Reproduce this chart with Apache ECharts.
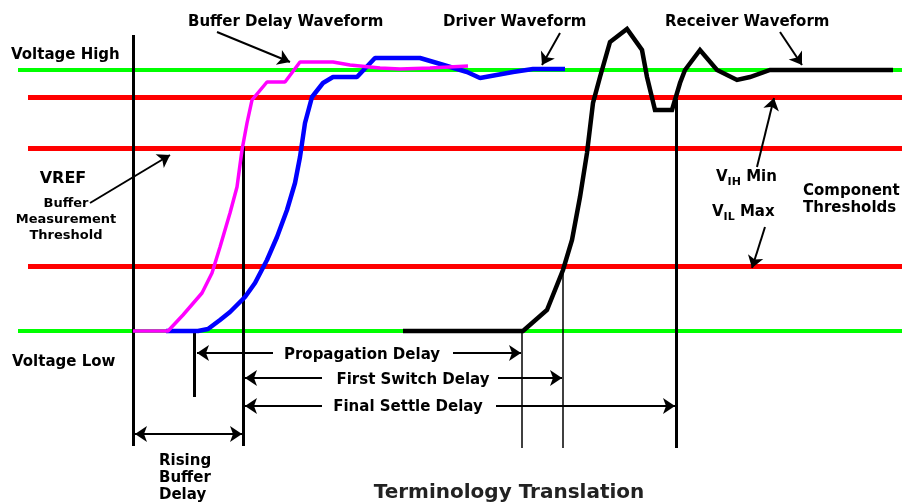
<!DOCTYPE html>
<html>
<head>
<meta charset="utf-8">
<script src="https://cdn.jsdelivr.net/npm/echarts@6/dist/echarts.min.js"></script>
<style>
html, body { margin: 0; padding: 0; background: #fff; }
#chart { width: 902px; height: 503px; }
</style>
</head>
<body>
<div id="chart"></div>
<script>
// signal levels (drawing units, y grows downward)
const railLevels = [70, 331]            // Voltage High, Voltage Low
const thresholdLevels = [97, 148, 266]  // VIH min, VREF, VIL max

// waveforms [time, level]
const bufferWave = [[133, 331], [168, 331], [183, 315], [202, 293], [212, 273], [220, 247], [230, 213],
  [237, 187], [242, 150], [247, 123], [252, 100], [267, 82], [285, 82], [300, 62], [333, 62],
  [350, 65], [380, 68], [400, 69], [430, 68], [468, 66]]
const driverWave = [[166, 331], [198, 331], [208, 329], [220, 320], [230, 312], [245, 297], [255, 283],
  [267, 260], [277, 237], [287, 210], [295, 183], [300, 157], [305, 123], [312, 97], [323, 83],
  [333, 77], [357, 77], [375, 58], [420, 58], [437, 63], [467, 72], [480, 78], [513, 72],
  [533, 69], [565, 69]]
const receiverWave = [[403, 331], [523, 331], [547, 310], [563, 270], [572, 240], [580, 197], [587, 153],
  [593, 103], [600, 77], [610, 42], [627, 29], [642, 50], [647, 77], [655, 110], [672, 110],
  [680, 83], [685, 70], [700, 50], [717, 70], [737, 80], [750, 77], [770, 70], [893, 70]]

// measurement markers: [x, top, bottom]
const markers = [[133, 35, 446], [243, 146, 446], [194, 331, 397], [522, 331, 448], [563, 268, 448], [676, 99, 448]]

// delay spans: [from, to, level]
const spans = [[273, 197, 353], [453, 521, 353], [322, 245, 378], [498, 562, 378], [322, 245, 406], [496, 675, 406]]
const risingSpan = [[135, 434], [242, 434]]

// callout arrows: [from, to]
const callouts = [
  [[217, 32], [290, 62]],
  [[560, 33], [542, 65]],
  [[780, 32], [802, 65]],
  [[90, 203], [170, 155]],
  [[757, 167], [774, 98]],
  [[765, 227], [752, 268]]
]

// text
const leftLabels = [
  ['Voltage High', 11, 53], ['Voltage Low', 12, 360],
  ['Buffer Delay Waveform', 188, 20], ['Driver Waveform', 443, 20], ['Receiver Waveform', 665, 20],
  ['Component\nThresholds', 803, 198], ['Rising\nBuffer\nDelay', 159, 476]
]
const spanLabels = [['Propagation Delay', 362, 353], ['First Switch Delay', 413, 378], ['Final Settle Delay', 408, 405]]
const vrefLabel = ['VREF', 63, 177]
const bufferNote = ['Buffer\nMeasurement\nThreshold', 66, 218]
const limitLabels = [['{v|V}{s|IH}{v| Min}', 716, 180], ['{v|V}{s|IL}{v| Max}', 712, 215]]
const title = ['Terminology Translation', 509, 491]

const FONT = 'DejaVu Sans'
const INK = '#000'

const chart = echarts.init(document.getElementById('chart'))

function textPoint (item, label) {
  return {
    value: [item[1], item[2]],
    label: Object.assign({ show: true, formatter: item[0], position: [0, 0], offset: [0, 2] }, label)
  }
}

const option = {
  animation: false,
  grid: { left: 0, right: 0, top: 0, bottom: 0 },
  xAxis: { type: 'value', min: 0, max: 902, show: false },
  yAxis: { type: 'value', min: 0, max: 503, inverse: true, show: false },
  series: [
    {
      // Voltage High / Low rails
      type: 'lines',
      coordinateSystem: 'cartesian2d',
      z: 1,
      lineStyle: { color: '#00ff00', width: 4, opacity: 1 },
      data: railLevels.map(y => ({ coords: [[18, y], [902, y]] }))
    },
    {
      // component thresholds
      type: 'lines',
      coordinateSystem: 'cartesian2d',
      z: 1,
      lineStyle: { color: '#ff0000', width: 5, opacity: 1 },
      data: thresholdLevels.map(y => ({ coords: [[28, y], [902, y]] }))
    },
    {
      type: 'lines',
      coordinateSystem: 'cartesian2d',
      z: 2,
      lineStyle: { color: '#000', width: 3, opacity: 1 },
      data: markers.filter((m, i) => i < 3 || i === 5).map(m => ({ coords: [[m[0], m[1]], [m[0], m[2]]] }))
    },
    {
      type: 'lines',
      coordinateSystem: 'cartesian2d',
      z: 2,
      lineStyle: { color: '#000', width: 1.5, opacity: 1 },
      data: markers.filter((m, i) => i === 3 || i === 4).map(m => ({ coords: [[m[0], m[1]], [m[0], m[2]]] }))
    },
    {
      // delay spans, arrow at the far end
      type: 'lines',
      coordinateSystem: 'cartesian2d',
      z: 2,
      symbol: ['none', 'arrow'],
      symbolSize: 12,
      lineStyle: { color: '#000', width: 2, opacity: 1 },
      data: spans.map(s => ({ coords: [[s[0], s[2]], [s[1], s[2]]] }))
    },
    {
      type: 'lines',
      coordinateSystem: 'cartesian2d',
      z: 2,
      symbol: ['arrow', 'arrow'],
      symbolSize: 12,
      lineStyle: { color: '#000', width: 2, opacity: 1 },
      data: [{ coords: risingSpan }]
    },
    {
      type: 'lines',
      coordinateSystem: 'cartesian2d',
      z: 2,
      symbol: ['none', 'arrow'],
      symbolSize: 12,
      lineStyle: { color: '#000', width: 2, opacity: 1 },
      data: callouts.map(c => ({ coords: c }))
    },
    {
      name: 'Receiver Waveform',
      type: 'line',
      z: 3,
      symbol: 'none',
      lineStyle: { color: '#000', width: 4.5, join: 'miter' },
      data: receiverWave
    },
    {
      name: 'Driver Waveform',
      type: 'line',
      z: 4,
      symbol: 'none',
      lineStyle: { color: '#0000ff', width: 4.5 },
      data: driverWave
    },
    {
      name: 'Buffer Delay Waveform',
      type: 'line',
      z: 5,
      symbol: 'none',
      lineStyle: { color: '#ff00ff', width: 3.5 },
      data: bufferWave
    },
    {
      // all text
      type: 'scatter',
      z: 10,
      symbolSize: 0,
      silent: true,
      itemStyle: { opacity: 1 },
      data: [
        ...leftLabels.map(l => textPoint(l, {
          align: 'left', verticalAlign: 'middle', fontFamily: FONT, fontWeight: 'bold',
          fontSize: 15, lineHeight: 17, color: INK
        })),
        ...spanLabels.map(l => textPoint(l, {
          align: 'center', verticalAlign: 'middle', fontFamily: FONT, fontWeight: 'bold',
          fontSize: 15, color: INK
        })),
        textPoint(vrefLabel, {
          align: 'center', verticalAlign: 'middle', fontFamily: FONT, fontWeight: 'bold',
          fontSize: 16, color: INK
        }),
        textPoint(bufferNote, {
          align: 'center', verticalAlign: 'middle', fontFamily: FONT, fontWeight: 'bold',
          fontSize: 13, lineHeight: 16, color: INK
        }),
        ...limitLabels.map(l => textPoint(l, {
          align: 'left', verticalAlign: 'middle',
          rich: {
            v: { fontFamily: FONT, fontWeight: 'bold', fontSize: 15, lineHeight: 16, verticalAlign: 'top', color: INK },
            s: { fontFamily: FONT, fontWeight: 'bold', fontSize: 11, lineHeight: 24, color: INK }
          }
        })),
        textPoint(title, {
          align: 'center', verticalAlign: 'middle', fontFamily: FONT, fontWeight: 'bold',
          fontSize: 20, color: '#222'
        })
      ]
    }
  ]
}

chart.setOption(option)
</script>
</body>
</html>
